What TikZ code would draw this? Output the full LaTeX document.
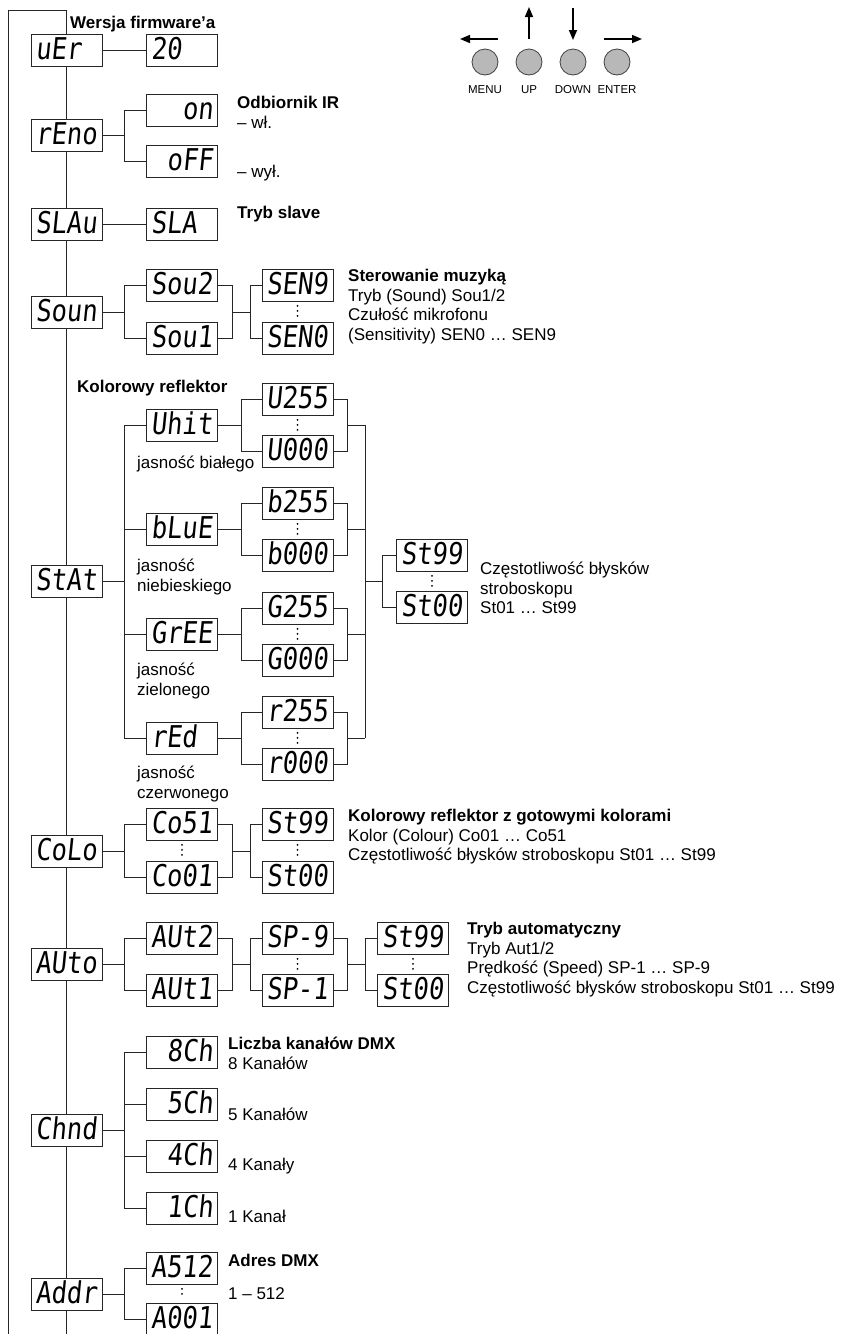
\documentclass[tikz,border=0pt]{standalone}
\usepackage{fontspec}
\setmainfont{Liberation Sans}
\newfontfamily\lcdfont{DejaVu Sans Mono}[FakeSlant=0.1,FakeStretch=0.85]
\usetikzlibrary{arrows.meta,positioning,calc}

\begin{document}
\begin{tikzpicture}[x=1pt, y=-1pt,
  disp/.style={draw=black!85, fill=white, line width=0.9pt, minimum width=71pt, minimum height=32pt, inner xsep=4.5pt, inner ysep=0pt, text width=62pt, align=left, text height=20pt, text depth=2pt, font=\fontsize{30}{30}\selectfont\lcdfont},
  dispr/.style={disp, align=right},
  wire/.style={draw=black!85, line width=0.8pt},
  dotcol/.style={line width=2pt, dash pattern=on 0pt off 5pt, line cap=round, shorten <=4.5pt, shorten >=4.5pt},
  txt/.style={anchor=north west, align=left, inner sep=0pt, font=\fontsize{17}{19.5}\selectfont, execute at begin node=\strut},
  btn/.style={circle, draw=black!75, fill=black!28, line width=0.8pt, minimum size=26pt, inner sep=0pt},
  btnlbl/.style={font=\fontsize{11.5}{12}\selectfont, inner sep=0pt},
  keyarr/.style={-{Triangle[length=10pt,width=8pt]}, line width=1.6pt},
  node distance=10pt
]
\useasboundingbox (0,0) rectangle (841,1334);

% Main menu column
\node[disp] (ver) at (66.5,50) {uEr};
\node[disp] (reno) at (66.5,135) {rEno};
\node[disp] (slav) at (66.5,224) {SLAu};
\node[disp] (soun) at (66.5,312) {Soun};
\node[disp] (stat) at (66.5,581) {StAt};
\node[disp] (colo) at (66.5,851) {CoLo};
\node[disp] (auto) at (66.5,964) {AUto};
\node[disp] (chnd) at (66.5,1130) {Chnd};
\node[disp] (addr) at (66.5,1294) {Addr};

\coordinate (top) at (66.5,10);
\coordinate (corner) at (8,10);
\coordinate (end) at (66.5,1334);
\coordinate (outerend) at (8,1334);
\draw[wire] (outerend) -- (corner) -- (top) -- (ver) -- (reno) -- (slav) -- (soun) -- (stat) -- (colo) -- (auto) -- (chnd) -- (addr) -- (end);

% Second column
\node[disp] (fw) at (182,50) {20};
\node[dispr] (on) at (182,110) {on};
\node[dispr] (off) at (182,161) {oFF};
\node[disp] (sla) at (182,224) {SLA};
\node[disp] (sou2) at (182,285) {Sou2};
\node[disp] (sou1) at (182,338) {Sou1};
\node[disp] (whit) at (182,425) {Uhit};
\node[disp] (blue) at (182,529) {bLuE};
\node[disp] (gree) at (182,634) {GrEE};
\node[disp] (red) at (182,738) {rEd};
\node[disp] (co51) at (182,824) {Co51};
\node[disp] (co01) at (182,877) {Co01};
\node[disp] (aut2) at (182,938) {AUt2};
\node[disp] (aut1) at (182,990) {AUt1};
\node[dispr] (ch8) at (182,1052) {8Ch};
\node[dispr] (ch5) at (182,1104) {5Ch};
\node[dispr] (ch4) at (182,1156) {4Ch};
\node[dispr] (ch1) at (182,1208) {1Ch};
\node[disp] (a512) at (182,1268) {A512};
\node[disp] (a001) at (182,1319) {A001};

% Third column
\node[disp] (sen9) at (297.5,285) {SEN9};
\node[disp] (sen0) at (297.5,338) {SEN0};
\node[disp] (u255) at (297.5,399) {U255};
\node[disp] (u000) at (297.5,451) {U000};
\node[disp] (b255) at (297.5,503) {b255};
\node[disp] (b000) at (297.5,555) {b000};
\node[disp] (g255) at (297.5,608) {G255};
\node[disp] (g000) at (297.5,660) {G000};
\node[disp] (r255) at (297.5,712) {r255};
\node[disp] (r000) at (297.5,764) {r000};
\node[disp] (cst99) at (297.5,824) {St99};
\node[disp] (cst00) at (297.5,877) {St00};
\node[disp] (sp9) at (297.5,938) {SP-9};
\node[disp] (sp1) at (297.5,990) {SP-1};

% Strobe columns
\node[disp] (sst99) at (432,555) {St99};
\node[disp] (sst00) at (432,607) {St00};
\node[disp] (ast99) at (413,938) {St99};
\node[disp] (ast00) at (413,990) {St00};

% Connectors
\draw[wire] (ver) -- (fw);
\draw[wire] (reno.east) -- ++(22,0) coordinate (freno) |- (on.west);
\draw[wire] (freno) |- (off.west);
\draw[wire] (slav) -- (sla);

\draw[wire] (soun.east) -- ++(22,0) coordinate (fsoun) |- (sou2.west);
\draw[wire] (fsoun) |- (sou1.west);
\draw[wire] (sou2.east) -- ++(14,0) coordinate (jsoun) |- (sou1.east);
\draw[wire] (jsoun |- soun) -- ++(18,0) coordinate (fsen) |- (sen9.west);
\draw[wire] (fsen) |- (sen0.west);
\draw[dotcol] (sen9.south) -- (sen0.north);

\draw[wire] (stat.east) -- ++(22,0) coordinate (fstat) |- (whit.west);
\draw[wire] (fstat) |- (red.west);
\draw[wire] (fstat |- blue) -- (blue.west);
\draw[wire] (fstat |- gree) -- (gree.west);
\foreach \c/\hi/\lo in {whit/u255/u000, blue/b255/b000, gree/g255/g000, red/r255/r000}{
  \draw[wire] (\c.east) -- ++(23,0) coordinate (f\c) |- (\hi.west);
  \draw[wire] (f\c) |- (\lo.west);
  \draw[wire] (\hi.east) -- ++(14,0) coordinate (j\c) |- (\lo.east);
  \draw[wire] (j\c |- \c) -- ++(18,0) coordinate (c\c);
  \draw[dotcol] (\hi.south) -- (\lo.north);
}
\draw[wire] (cwhit) -- (cred);
\draw[wire] (cwhit |- stat) -- ++(17,0) coordinate (fsst) |- (sst99.west);
\draw[wire] (fsst) |- (sst00.west);
\draw[dotcol] (sst99.south) -- (sst00.north);

\draw[wire] (colo.east) -- ++(22,0) coordinate (fcolo) |- (co51.west);
\draw[wire] (fcolo) |- (co01.west);
\draw[dotcol] (co51.south) -- (co01.north);
\draw[wire] (co51.east) -- ++(14,0) coordinate (jcolo) |- (co01.east);
\draw[wire] (jcolo |- colo) -- ++(18,0) coordinate (fcst) |- (cst99.west);
\draw[wire] (fcst) |- (cst00.west);
\draw[dotcol] (cst99.south) -- (cst00.north);

\draw[wire] (auto.east) -- ++(22,0) coordinate (fauto) |- (aut2.west);
\draw[wire] (fauto) |- (aut1.west);
\draw[wire] (aut2.east) -- ++(14,0) coordinate (jauto) |- (aut1.east);
\draw[wire] (jauto |- auto) -- ++(18,0) coordinate (fsp) |- (sp9.west);
\draw[wire] (fsp) |- (sp1.west);
\draw[dotcol] (sp9.south) -- (sp1.north);
\draw[wire] (sp9.east) -- ++(14,0) coordinate (jsp) |- (sp1.east);
\draw[wire] (jsp |- auto) -- ++(18,0) coordinate (fast) |- (ast99.west);
\draw[wire] (fast) |- (ast00.west);
\draw[dotcol] (ast99.south) -- (ast00.north);

\draw[wire] (chnd.east) -- ++(22,0) coordinate (fchnd) |- (ch8.west);
\draw[wire] (fchnd) |- (ch1.west);
\foreach \n in {ch5, ch4}
  \draw[wire] (fchnd |- \n) -- (\n.west);

\draw[wire] (addr.east) -- ++(22,0) coordinate (faddr) |- (a512.west);
\draw[wire] (faddr) |- (a001.west);
\draw[dotcol] (a512.south) -- (a001.north);

% Labels
\node[txt] (lver) at (70,15) {\textbf{Wersja firmware’a}};
\node[txt] (lreno) at (237,96) {\textbf{Odbiornik IR}\\– wł.};
\node[txt] (loff) at (237,164) {– wył.};
\node[txt] (lslav) at (237,205) {\textbf{Tryb slave}};
\node[txt] (lsoun) at (348,269) {\textbf{Sterowanie muzyką}\\Tryb (Sound) Sou1/2\\Czułość mikrofonu\\(Sensitivity) SEN0 … SEN9};
\node[txt] (lstat) at (77,379) {\textbf{Kolorowy reflektor}};
\node[txt] (lwhit) at (137,455) {jasność białego};
\node[txt] (lblue) at (137,559) {jasność\\niebieskiego};
\node[txt] (lgree) at (137,663) {jasność\\zielonego};
\node[txt] (lred) at (137,766) {jasność\\czerwonego};
\node[txt] (lstrobe) at (480,562) {Częstotliwość błysków\\stroboskopu\\St01 … St99};
\node[txt] (lcolo) at (348,809) {\textbf{Kolorowy reflektor z gotowymi kolorami}\\Kolor (Colour) Co01 … Co51\\Częstotliwość błysków stroboskopu St01 … St99};
\node[txt] (lauto) at (467,922) {\textbf{Tryb automatyczny}\\Tryb Aut1/2\\Prędkość (Speed) SP-1 … SP-9\\Częstotliwość błysków stroboskopu St01 … St99};
\node[txt] (lchnd) at (228,1037) {\textbf{Liczba kanałów DMX}\\8 Kanałów};
\node[txt] (lch5) at (228,1107) {5 Kanałów};
\node[txt] (lch4) at (228,1157) {4 Kanały};
\node[txt] (lch1) at (228,1209) {1 Kanał};
\node[txt] (laddr) at (228,1253) {\textbf{Adres DMX}};
\node[txt] (lrange) at (228,1286) {1 – 512};

% Buttons
\node[btn] (menu) at (485,62) {};
\node[btn] (up) at (529,62) {};
\node[btn] (down) at (573,62) {};
\node[btn] (enter) at (617,62) {};
\node[btnlbl, below=of menu] (lmenu) {MENU};
\node[btnlbl, below=of up] (lup) {UP};
\node[btnlbl, below=of down] (ldown) {DOWN};
\node[btnlbl, below=of enter] (lenter) {ENTER};
\draw[keyarr] ([shift={(13,-23)}]menu.center) -- ++(-38,0);
\draw[keyarr] ([shift={(0,-23)}]up.center) -- ++(0,-32);
\draw[keyarr] ([shift={(0,-54)}]down.center) -- ++(0,32);
\draw[keyarr] ([shift={(-13,-23)}]enter.center) -- ++(38,0);

\end{tikzpicture}
\end{document}
